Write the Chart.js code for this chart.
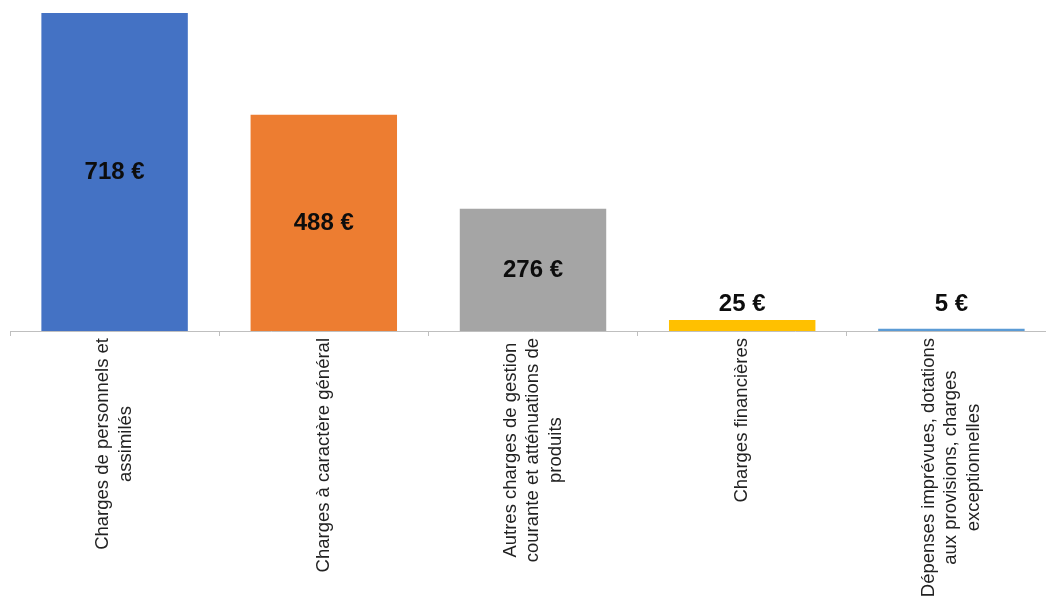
<!DOCTYPE html>
<html>
<head>
<meta charset="utf-8">
<script src="https://cdn.jsdelivr.net/npm/chart.js@4"></script>
<style>
  html, body { margin: 0; padding: 0; background: #fff; overflow: hidden; }
  #wrap { width: 1056px; height: 603px; }
</style>
</head>
<body>
<div id="wrap"><canvas id="chargesChart"></canvas></div>
<script>
// catégories (une ligne par élément)
const categories = [
  ["Charges de personnels et", "assimilés"],
  ["Charges à caractère général"],
  ["Autres charges de gestion", "courante et atténuations de", "produits"],
  ["Charges financières"],
  ["Dépenses imprévues, dotations", "aux provisions, charges", "exceptionnelles"]
];

const amounts = [718, 488, 276, 25, 5];

const barColors = ['#4472C4', '#ED7D31', '#A5A5A5', '#FFC000', '#5B9BD5'];

// étiquettes de l'axe X, dessinées à la main (centrées, texte vertical)
const axisLabels = {
  id: 'axisLabels',
  afterDraw(chart) {
    const c = chart.ctx;
    const xs = chart.scales.x;
    const top = chart.chartArea.bottom + 7;
    const lh = 22.5;
    c.save();
    c.font = '18.5px "Liberation Sans", Arial, sans-serif';
    c.fillStyle = '#222';
    c.textAlign = 'center';
    c.textBaseline = 'middle';
    categories.forEach((lines, i) => {
      const x = xs.getPixelForValue(i);
      const maxW = Math.max(...lines.map(l => c.measureText(l).width));
      c.save();
      c.translate(x, top + maxW / 2);
      c.rotate(-Math.PI / 2);
      lines.forEach((l, j) => {
        c.fillText(l, 0, (j - (lines.length - 1) / 2) * lh);
      });
      c.restore();
    });
    c.restore();
  }
};

// valeurs en euros sur les barres
const valueLabels = {
  id: 'valueLabels',
  afterDatasetsDraw(chart) {
    const c = chart.ctx;
    const meta = chart.getDatasetMeta(0);
    const base = chart.chartArea.bottom;
    c.save();
    c.font = 'bold 24px "Liberation Sans", Arial, sans-serif';
    c.fillStyle = '#0d0d0d';
    c.textAlign = 'center';
    c.textBaseline = 'middle';
    meta.data.forEach((bar, i) => {
      const h = base - bar.y;
      let y;
      if (h > 60) {
        y = (bar.y + base) / 2;
      } else {
        y = base - 27;
      }
      c.fillText(amounts[i] + ' €', bar.x, y);
    });
    c.restore();
  }
};

new Chart(document.getElementById('chargesChart'), {
  type: 'bar',
  data: {
    labels: categories,
    datasets: [{
      data: amounts,
      backgroundColor: barColors,
      borderWidth: 0,
      categoryPercentage: 1,
      barPercentage: 0.7
    }]
  },
  options: {
    responsive: true,
    maintainAspectRatio: false,
    animation: false,
    layout: {
      padding: { top: 13, left: 10, right: 0, bottom: 267 }
    },
    plugins: {
      legend: { display: false },
      tooltip: { enabled: false }
    },
    scales: {
      x: {
        offset: true,
        grid: {
          display: true,
          offset: true,
          drawOnChartArea: false,
          drawTicks: true,
          tickLength: 5,
          color: '#bfbfbf'
        },
        border: { display: true, color: '#bfbfbf', width: 1 },
        ticks: { display: false }
      },
      y: {
        display: false,
        min: 0,
        max: 718
      }
    }
  },
  plugins: [axisLabels, valueLabels]
});
</script>
</body>
</html>
